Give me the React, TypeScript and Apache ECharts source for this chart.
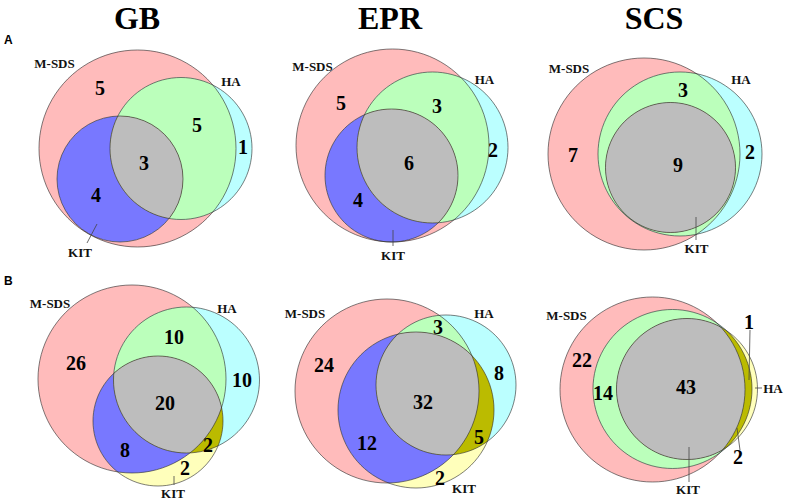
import React, { useEffect, useRef } from "react";
import * as echarts from "echarts";

const SET_NAMES = ["M-SDS", "HA", "KIT"];
const COLUMN_TITLES = ["GB", "EPR", "SCS"];
const ROW_LETTERS = ["A", "B"];

// Circle geometry [cx, cy, r] in panel units; order: M-SDS, HA, KIT
const gbACircles = [[137.5, 148.5, 98.5], [181, 148.5, 71], [120, 179, 63]];
const eprACircles = [[137.5, 145.5, 96.5], [177.5, 147.5, 75.5], [136.5, 175.5, 66.5]];
const scsACircles = [[124, 154, 96], [160, 154, 82], [150.5, 167.5, 65]];
const gbBCircles = [[132, 129, 94], [186.5, 130, 73], [158, 171, 65]];
const eprBCircles = [[132, 141, 92], [191, 135, 70], [161, 160, 78]];
const scsBCircles = [[132.5, 139.5, 92.5], [152.5, 139, 79.5], [167, 139, 70.5]];

// Region counts
const gbACounts = [5, 5, 1, 3, 4];
const eprACounts = [5, 3, 2, 6, 4];
const scsACounts = [7, 3, 2, 9];
const gbBCounts = [26, 10, 10, 20, 8, 2, 2];
const eprBCounts = [24, 3, 8, 32, 12, 5, 2];
const scsBCounts = [22, 14, 43, 1, 2];

// Where each count sits (panel units)
const gbACountAt = [[100, 88], [197, 125], [243, 147], [144, 163], [96, 195]];
const eprACountAt = [[86, 103], [182, 106], [238, 150], [154, 163], [103, 200]];
const scsACountAt = [[53, 155], [163, 90], [230, 152], [158, 165]];
const gbBCountAt = [[76, 113], [174, 87], [242, 130], [165, 153], [125, 200], [208, 195], [185, 218]];
const eprBCountAt = [[69, 115], [183, 77], [244, 123], [168, 152], [112, 193], [224, 187], [185, 228]];
const scsBCountAt = [[62, 110], [83, 143], [166, 137], [229, 72], [218, 207]];

// Set name anchors (M-SDS, HA, KIT)
const gbALabelAt = [[54.5, 63.5], [231, 81.5], [80, 252]];
const eprALabelAt = [[57.5, 66.5], [229.5, 79], [138, 255]];
const scsALabelAt = [[49, 68.5], [221, 79], [176.5, 248]];
const gbBLabelAt = [[50, 53], [227, 58], [173, 243]];
const eprBLabelAt = [[50, 63.5], [229, 63.5], [209, 238]];
const scsBLabelAt = [[46.5, 65], [253, 138], [168, 239]];

// Leader lines [x1, y1, x2, y2]
const gbALeaders = [[87, 243, 97, 224]];
const eprALeaders = [[138, 230, 138, 246]];
const scsALeaders = [[176, 217, 176, 240]];
const gbBLeaders = [[174, 226, 174, 235]];
const eprBLeaders: number[][] = [];
const scsBLeaders = [[230, 80, 229, 130], [235, 138, 242, 138], [217, 178, 220, 200], [169, 197, 169, 232]];

const PANELS = [
  { col: 0, row: 0, circles: gbACircles, counts: gbACounts, countAt: gbACountAt, labelAt: gbALabelAt, leaders: gbALeaders },
  { col: 1, row: 0, circles: eprACircles, counts: eprACounts, countAt: eprACountAt, labelAt: eprALabelAt, leaders: eprALeaders },
  { col: 2, row: 0, circles: scsACircles, counts: scsACounts, countAt: scsACountAt, labelAt: scsALabelAt, leaders: scsALeaders },
  { col: 0, row: 1, circles: gbBCircles, counts: gbBCounts, countAt: gbBCountAt, labelAt: gbBLabelAt, leaders: gbBLeaders },
  { col: 1, row: 1, circles: eprBCircles, counts: eprBCounts, countAt: eprBCountAt, labelAt: eprBLabelAt, leaders: eprBLeaders },
  { col: 2, row: 1, circles: scsBCircles, counts: scsBCounts, countAt: scsBCountAt, labelAt: scsBLabelAt, leaders: scsBLeaders },
];

const COL_LEFT = [0, 255, 520];
const ROW_TOP = [0, 250];
const PANEL_W = 262;
const PANEL_H = 250;

const C = {
  mOnly: "#FFBBBB",
  hOnly: "#BBFFFF",
  kOnly: "#FFFFBB",
  mh: "#BBFFBB",
  mk: "#7878FF",
  hk: "#BBBB00",
  all: "#BDBDBD",
  stroke: "rgba(40,40,40,0.75)",
};

const SERIF = "'Liberation Serif', 'Times New Roman', serif";
const SANS = "'Liberation Sans', Arial, sans-serif";

function buildOption() {
  const grid: any[] = [];
  const xAxis: any[] = [];
  const yAxis: any[] = [];
  const series: any[] = [];

  PANELS.forEach((p, i) => {
    grid.push({ left: COL_LEFT[p.col], top: ROW_TOP[p.row], width: PANEL_W, height: PANEL_H, containLabel: false });
    xAxis.push({ type: "value", gridIndex: i, min: 0, max: PANEL_W, show: false });
    yAxis.push({ type: "value", gridIndex: i, min: 0, max: PANEL_H, inverse: true, show: false });

    const circles = p.circles;
    series.push({
      type: "custom",
      xAxisIndex: i,
      yAxisIndex: i,
      clip: false,
      silent: true,
      data: [[0, 0]],
      renderItem: (_params: any, api: any) => {
        const px = circles.map((c) => {
          const pt = api.coord([c[0], c[1]]);
          const s = api.size([c[2], c[2]]);
          return { cx: pt[0], cy: pt[1], r: Math.abs(s[0]) };
        });
        const [M, H, K] = px;
        const disc = (s: any, fill: string, clip?: any) => {
          const el: any = { type: "circle", shape: { ...s }, style: { fill, stroke: null } };
          if (clip) el.clipPath = { type: "circle", shape: { ...clip } };
          return el;
        };
        const ring = (s: any) => ({
          type: "circle",
          shape: { ...s },
          style: { fill: null, stroke: C.stroke, lineWidth: 0.8 },
        });
        return {
          type: "group",
          children: [
            disc(M, C.mOnly),
            disc(H, C.hOnly),
            disc(K, C.kOnly),
            disc(H, C.mh, M),
            disc(K, C.mk, M),
            disc(K, C.hk, H),
            {
              type: "group",
              clipPath: { type: "circle", shape: { ...M } },
              children: [disc(K, C.all, H)],
            },
            ring(M),
            ring(H),
            ring(K),
          ],
        };
      },
    });

    series.push({
      type: "custom",
      xAxisIndex: i,
      yAxisIndex: i,
      clip: false,
      silent: true,
      data: p.counts.map((v, k) => [p.countAt[k][0], p.countAt[k][1], v]),
      renderItem: (_params: any, api: any) => {
        const pt = api.coord([api.value(0), api.value(1)]);
        return {
          type: "text",
          x: pt[0],
          y: pt[1],
          style: {
            text: String(api.value(2)),
            fontSize: 20,
            fontWeight: "bold",
            fontFamily: SERIF,
            fill: "#000",
            align: "center",
            verticalAlign: "middle",
          },
        };
      },
    });

    series.push({
      type: "custom",
      xAxisIndex: i,
      yAxisIndex: i,
      clip: false,
      silent: true,
      data: p.labelAt.map((a, k) => [a[0], a[1], k]),
      renderItem: (_params: any, api: any) => {
        const pt = api.coord([api.value(0), api.value(1)]);
        return {
          type: "text",
          x: pt[0],
          y: pt[1],
          style: {
            text: SET_NAMES[api.value(2)],
            fontSize: 13,
            fontWeight: "bold",
            fontFamily: SERIF,
            fill: "#111",
            align: "center",
            verticalAlign: "middle",
          },
        };
      },
    });

    if (p.leaders.length) {
      series.push({
        type: "custom",
        xAxisIndex: i,
        yAxisIndex: i,
        clip: false,
        silent: true,
        data: p.leaders,
        renderItem: (_params: any, api: any) => {
          const a = api.coord([api.value(0), api.value(1)]);
          const b = api.coord([api.value(2), api.value(3)]);
          return {
            type: "line",
            shape: { x1: a[0], y1: a[1], x2: b[0], y2: b[1] },
            style: { stroke: "#444", lineWidth: 0.8 },
          };
        },
      });
    }
  });

  const titleCenters = [137, 390, 654];
  const title: any[] = COLUMN_TITLES.map((t, i) => ({
    text: t,
    left: titleCenters[i],
    top: 1.5,
    padding: 0,
    textAlign: "center",
    textStyle: { fontFamily: SERIF, fontWeight: "bold", fontSize: 32, color: "#000" },
  }));
  const letterTops = [34, 275];
  ROW_LETTERS.forEach((l, i) => {
    title.push({
      text: l,
      left: 4,
      top: letterTops[i],
      padding: 0,
      textStyle: { fontFamily: SANS, fontWeight: "bold", fontSize: 12, color: "#000" },
    });
  });

  return {
    animation: false,
    backgroundColor: "#fff",
    title,
    grid,
    xAxis,
    yAxis,
    series,
  };
}

export default function App() {
  const ref = useRef<HTMLDivElement>(null);
  useEffect(() => {
    if (!ref.current) return;
    const chart = echarts.init(ref.current, null, { renderer: "svg" });
    chart.setOption(buildOption() as any);
    return () => chart.dispose();
  }, []);
  return (
    <div
      ref={ref}
      style={{ position: "absolute", left: 0, top: 0, width: 787, height: 501, background: "#fff" }}
    />
  );
}
